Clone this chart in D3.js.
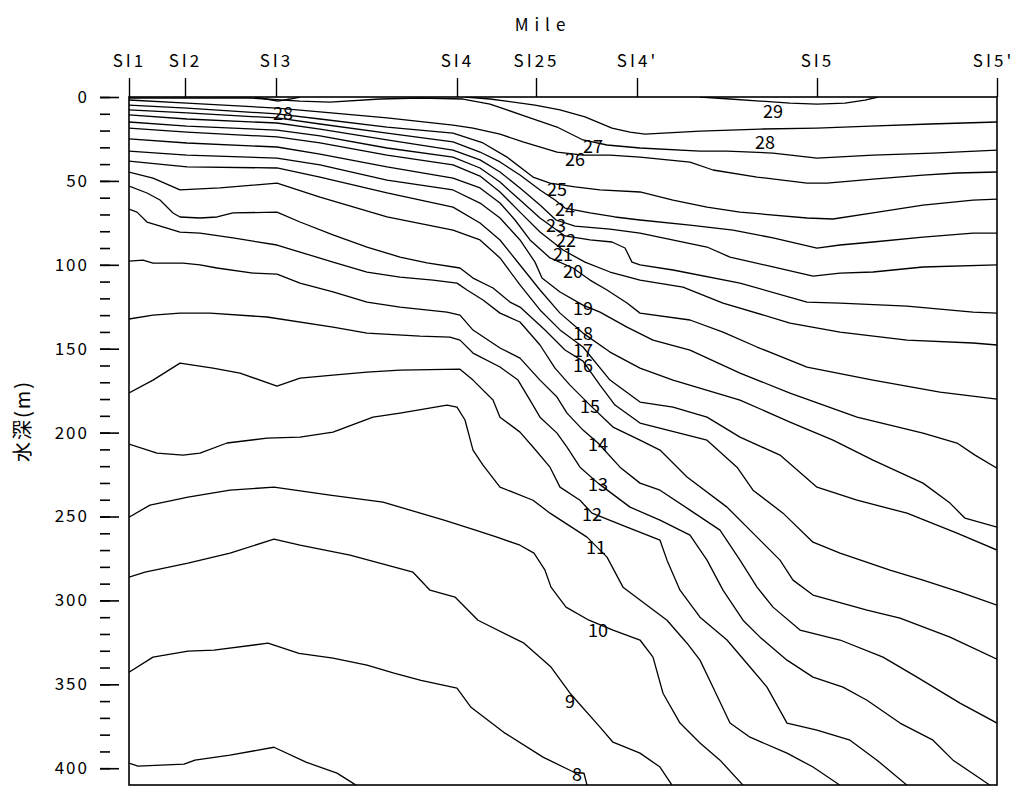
<!DOCTYPE html>
<html>
<head>
<meta charset="utf-8">
<script src="https://cdn.jsdelivr.net/npm/d3@7"></script>
<style>
body { margin: 0; background: #fff; }
text { font-family: "Noto Sans CJK JP", "Noto Sans", sans-serif; fill: #000; }
</style>
</head>
<body>
<script>
// stations along the section (miles from SI1)
const stationNames = ["SI1", "SI2", "SI3", "SI4", "SI25", "SI4'", "SI5", "SI5'"]
const stationMiles = [0, 5.6, 14.7, 32.8, 40.7, 50.8, 68.8, 86.8]

const depthMajor = [0, 50, 100, 150, 200, 250, 300, 350, 400]
const depthMinor = d3.range(0, 410, 10)

// isotherms, [mile, depth m]
const t29 = [[57.1,0],[60.1,1.2],[63.1,2.4],[66.1,3.6],[68.8,4.2],[71.6,3.6],[73.6,1.8],[74.9,0]]
const t28a = [[12.6,0],[13.7,1.2],[14.9,2.4],[16.1,1.2],[17.1,0]]
const t28b = [[33.6,0],[36.1,1.2],[40.6,4.8],[43.1,7.7],[45.6,11.9],[48.3,18.5],[50.1,20.9],[51.6,22.1],[57.1,20.3],[63.1,19.1],[68.8,18.5],[74.1,17.3],[80.1,16.1],[86.8,14.9]]
const t27 = [[0,0.6],[7.1,0.6],[12.1,0.6],[17.1,2.4],[20.1,3.0],[25.1,1.2],[29.1,0.6],[33.4,1.2],[36.1,4.2],[37.8,7.7],[40.1,12.5],[42.8,17.9],[45.4,25.6],[47.8,28.6],[51.1,30.4],[57.1,32.2],[59.8,32.2],[64.4,33.4],[68.8,36.4],[74.4,34.6],[80.4,33.4],[86.8,31.6]]
const t26 = [[0,1.8],[5.8,3.6],[14.8,6.6],[19.1,8.9],[25.8,12.5],[32.4,16.7],[34.4,18.5],[37.1,22.1],[39.4,26.8],[42.8,32.8],[45.4,34.6],[48.1,34.6],[51.1,35.8],[56.1,38.8],[58.4,43.5],[62.8,47.7],[67.8,51.3],[69.8,51.3],[74.4,48.9],[79.4,46.5],[82.8,45.3],[86.8,44.7]]
const t25 = [[0,4.8],[5.8,6.6],[14.8,10.1],[19.1,13.1],[25.8,17.9],[32.4,21.5],[35.4,27.4],[37.8,35.8],[40.4,47.7],[42.1,51.3],[44.6,53.6],[47.1,55.4],[51.1,56.6],[54.4,61.4],[57.8,65.6],[61.1,68.6],[67.8,72.1],[70.4,72.7],[74.4,69.1],[79.4,64.4],[84.4,61.4],[86.8,60.8]]
const t24 = [[0,7.7],[5.8,9.5],[14.8,12.5],[19.1,16.1],[25.8,21.5],[32.4,26.8],[35.1,32.8],[37.1,38.7],[39.1,46.5],[41.1,55.4],[42.6,61.4],[43.6,66.2],[46.1,69.1],[48.6,71.5],[51.1,73.3],[56.1,76.3],[60.4,79.3],[64.4,84.0],[68.8,90.0],[71.1,88.2],[74.4,86.4],[79.4,83.5],[84.4,81.1],[86.8,81.1]]
const t23 = [[0,10.7],[5.8,13.1],[14.8,15.5],[19.1,19.1],[25.8,25.6],[32.4,31.6],[35.1,37.5],[37.1,44.7],[39.1,54.2],[41.1,64.4],[42.7,73.3],[44.6,76.9],[48.1,78.7],[51.1,81.1],[57.8,89.4],[60.1,95.4],[64.4,101.3],[68.4,106.7],[71.1,104.9],[74.4,104.3],[79.4,101.3],[86.8,100.1]]
const t22 = [[0,14.9],[5.8,17.3],[14.8,19.7],[19.1,23.2],[25.8,30.4],[32.4,35.8],[35.1,42.3],[37.1,50.7],[39.1,61.4],[41.1,72.1],[43.6,82.8],[46.1,85.2],[48.3,86.4],[49.6,90.0],[50.3,98.4],[51.1,100.1],[54.4,103.1],[61.1,110.9],[67.8,122.2],[71.1,122.8],[77.8,124.6],[84.4,128.2],[86.8,128.8]]
const t21 = [[0,18.5],[5.8,20.9],[14.8,23.8],[19.1,27.4],[25.8,34.6],[32.4,40.5],[35.1,47.1],[37.1,56.6],[39.1,68.6],[41.1,80.5],[43.4,91.2],[45.6,98.4],[48.1,104.3],[51.1,109.1],[55.4,113.3],[59.4,122.8],[66.1,134.7],[71.1,140.1],[77.8,144.9],[84.4,146.6],[86.8,147.8]]
const t20 = [[0,25.0],[5.8,27.4],[14.8,29.8],[19.1,34.0],[25.8,41.7],[32.4,48.3],[35.1,54.2],[37.1,63.2],[38.6,73.3],[40.1,85.2],[42.1,95.9],[44.4,101.9],[46.1,109.1],[47.8,115.0],[49.8,122.8],[51.1,128.8],[56.1,132.9],[59.4,140.1],[62.8,149.0],[67.8,161.0],[74.4,168.7],[81.1,175.9],[86.8,180.0]]
const t19 = [[0,32.2],[5.8,34.6],[14.8,36.4],[19.1,40.5],[25.8,49.5],[32.4,55.4],[35.1,63.2],[37.1,72.1],[39.1,85.2],[40.6,98.4],[41.3,107.9],[43.1,116.2],[45.4,124.0],[47.1,128.2],[49.8,137.1],[52.4,144.9],[56.1,150.8],[61.1,164.5],[66.1,176.5],[72.8,190.8],[79.4,200.3],[82.8,206.2],[84.6,213.4],[86.8,221.2]]
const t18 = [[0,38.2],[5.8,41.7],[14.8,42.3],[19.1,47.7],[25.8,57.2],[32.4,65.6],[35.1,75.1],[37.1,85.2],[39.1,100.1],[41.1,115.0],[43.1,128.8],[45.4,140.7],[48.1,152.0],[51.1,161.6],[54.4,168.7],[61.1,180.6],[66.1,193.7],[70.4,204.5],[74.4,216.4],[79.4,230.1],[82.1,242.0],[83.6,251.0],[86.8,256.3]]
const t17 = [[0,44.7],[2.4,48.3],[5.1,55.4],[9.1,54.2],[14.8,51.3],[19.1,59.6],[25.8,71.5],[32.4,79.3],[35.1,85.2],[37.1,95.9],[39.1,112.0],[41.1,126.9],[43.1,138.8],[45.4,149.0],[48.1,168.7],[51.1,181.8],[54.4,184.8],[57.8,190.8],[61.1,202.7],[65.1,213.4],[68.8,232.5],[72.8,240.3],[77.8,248.0],[82.8,259.9],[86.8,270.0]]
const t16 = [[0,53.1],[1.8,57.2],[3.1,61.4],[4.4,69.1],[5.1,71.5],[7.1,72.1],[8.8,71.5],[10.4,69.1],[14.8,68.6],[17.1,74.5],[20.4,82.2],[23.8,89.4],[27.1,95.4],[29.8,98.9],[33.1,101.9],[34.4,107.9],[36.4,113.8],[38.1,122.2],[39.1,125.2],[41.6,138.9],[43.6,150.8],[45.4,157.4],[47.1,171.7],[48.6,183.6],[51.1,194.3],[57.8,204.5],[60.8,220.6],[62.4,234.3],[65.4,248.0],[68.4,265.3],[71.1,271.8],[76.1,282.0],[79.4,287.9],[83.1,295.0],[86.8,302.8]]
const t15 = [[0,66.8],[0.8,68.6],[1.8,74.5],[3.8,78.1],[5.1,80.5],[7.1,81.1],[10.4,84.0],[14.8,88.2],[17.1,92.4],[20.4,98.4],[23.8,104.3],[27.1,107.3],[30.4,109.1],[32.8,110.9],[33.8,115.0],[35.4,121.0],[37.1,128.8],[39.1,134.1],[41.1,147.8],[42.6,161.6],[44.1,171.7],[46.1,183.6],[48.4,196.7],[51.1,204.5],[53.1,210.4],[55.8,226.5],[59.8,244.4],[62.8,262.3],[65.1,276.0],[66.4,287.9],[68.4,296.8],[73.8,305.8],[77.1,310.6],[82.1,321.9],[86.8,335.0]]
const t14 = [[0,97.8],[1.4,97.2],[2.4,99.0],[5.4,99.0],[7.1,100.1],[8.8,101.9],[12.4,104.9],[14.8,105.5],[17.1,110.9],[20.4,116.2],[23.8,122.2],[27.1,125.2],[31.8,128.2],[33.1,130.0],[34.4,138.9],[37.1,149.6],[39.1,155.6],[41.1,168.7],[42.8,178.8],[43.8,188.4],[45.4,198.5],[46.9,206.2],[49.1,220.6],[51.1,230.1],[53.1,234.3],[56.1,246.2],[59.1,258.1],[61.1,276.0],[62.8,292.1],[64.4,304.0],[67.1,317.7],[71.1,323.6],[75.4,333.8],[78.8,345.7],[83.1,361.2],[86.8,373.1]]
const t13 = [[0,132.3],[2.4,130.0],[5.1,128.8],[8.1,128.8],[13.8,131.1],[20.4,137.1],[23.8,140.7],[29.1,142.5],[32.1,143.1],[33.1,144.9],[34.4,152.6],[37.1,160.9],[38.9,168.7],[40.1,180.6],[41.1,190.8],[42.8,200.3],[43.8,208.6],[45.1,220.6],[46.9,230.1],[50.1,244.4],[53.1,252.2],[56.1,261.1],[57.8,276.0],[59.4,293.9],[61.4,311.8],[63.1,321.9],[65.8,335.6],[68.4,345.7],[71.4,351.7],[73.8,359.5],[77.1,373.1],[80.4,383.3],[82.4,395.2],[86.1,410.1]]
const t12 = [[0,176.4],[2.4,168.7],[5.1,158.6],[8.4,161.6],[11.1,164.5],[14.8,172.3],[17.1,167.5],[20.4,165.7],[23.8,163.9],[27.1,162.8],[33.1,162.2],[34.4,168.7],[36.4,180.6],[37.1,190.8],[39.1,199.7],[40.4,208.6],[42.1,220.6],[43.1,232.5],[45.1,240.3],[46.3,248.0],[49.8,256.3],[53.1,264.1],[53.8,276.0],[55.1,293.9],[57.1,310.0],[59.8,323.6],[62.1,339.7],[63.8,351.7],[65.8,373.1],[68.8,377.3],[72.1,383.3],[74.8,395.2],[77.8,410.1]]
const t11 = [[0,206.8],[2.8,212.2],[5.4,213.4],[7.1,212.2],[9.8,206.2],[13.8,203.3],[17.1,202.7],[20.4,199.7],[24.4,190.8],[27.1,188.4],[31.8,183.6],[32.8,184.8],[33.6,192.5],[34.4,210.4],[35.4,219.4],[37.1,232.5],[40.4,240.3],[42.1,248.0],[45.8,262.3],[47.8,274.2],[49.4,292.1],[53.8,311.8],[55.8,325.5],[57.1,335.6],[58.4,351.7],[60.1,373.1],[62.1,381.5],[65.8,391.0],[68.4,399.3],[71.1,410.1]]
const t10 = [[0,250.4],[2.1,243.2],[5.9,238.4],[10.1,234.3],[14.5,232.5],[20.1,237.3],[25.4,241.4],[31.5,252.2],[34.1,257.0],[36.8,262.3],[39.1,267.1],[40.5,271.8],[41.6,282.0],[42.2,292.1],[43.7,304.0],[46.0,311.8],[48.4,317.7],[51.1,323.6],[52.4,333.8],[53.4,355.3],[55.1,373.1],[57.1,385.0],[59.1,395.2],[61.4,410.1]]
const t9 = [[0,286.1],[1.6,283.2],[5.9,277.8],[10.1,271.8],[14.5,263.5],[17.1,267.1],[22.1,273.0],[28.4,283.2],[30.1,293.9],[32.6,298.0],[34.9,311.8],[39.5,325.5],[42.2,339.7],[44.1,355.3],[47.1,375.5],[48.4,384.5],[51.1,391.0],[53.1,399.3],[54.3,410.1]]
const t8 = [[0,342.8],[2.4,333.8],[5.9,330.2],[8.5,329.6],[13.9,325.5],[17.0,331.5],[20.4,334.4],[23.8,338.6],[26.5,343.4],[29.2,347.6],[32.8,352.3],[34.2,363.7],[37.6,379.1],[41.4,393.4],[44.5,402.4],[45.5,403.0],[45.8,410.1]]
const t7 = [[0,397.0],[0.9,398.8],[5.5,397.6],[6.6,395.2],[10.1,392.2],[14.5,387.5],[17.7,396.4],[20.8,402.9],[22.7,410.1]]

const isolines = [t29, t28a, t28b, t27, t26, t25, t24, t23, t22, t21, t20, t19, t18, t17, t16, t15, t14, t13, t12, t11, t10, t9, t8, t7]

// contour labels
const labelTemps = [29, 28, 28, 27, 26, 25, 24, 23, 22, 21, 20, 19, 18, 17, 16, 15, 14, 13, 12, 11, 10, 9, 8]
const labelMiles = [64.4, 15.4, 63.6, 46.4, 44.6, 42.8, 43.6, 42.7, 43.7, 43.4, 44.4, 45.4, 45.4, 45.4, 45.4, 46.1, 46.9, 46.9, 46.3, 46.7, 46.9, 44.1, 44.8]
const labelDepths = [7.7, 8.9, 26.2, 28.6, 36.4, 54.2, 66.2, 75.8, 84.4, 92.8, 103.1, 125.2, 140.3, 150.2, 159.2, 183.6, 206.2, 230.1, 248.0, 267.7, 317.1, 359.5, 402.6]

const WIDTH = 1015
const HEIGHT = 787

const PADDING = {
    left: 129,
    right: 18,
    top: 97,
    bottom: 2
}

const svg = d3.select("body")
    .append("svg")
    .attr("width", WIDTH)
    .attr("height", HEIGHT)

const xScale = d3.scaleLinear()
    .domain([0, 86.8])
    .range([PADDING.left, WIDTH - PADDING.right])

const yScale = d3.scaleLinear()
    .domain([0, 410])
    .range([PADDING.top, HEIGHT - PADDING.bottom])

svg.append("clipPath")
    .attr("id", "plot-clip")
    .append("rect")
    .attr("x", xScale(0))
    .attr("y", yScale(0))
    .attr("width", xScale(86.8) - xScale(0))
    .attr("height", yScale(410) - yScale(0))

const line = d3.line()
    .x(d => xScale(d[0]))
    .y(d => yScale(d[1]))

svg.append("g")
    .attr("clip-path", "url(#plot-clip)")
    .selectAll("path")
    .data(isolines)
    .enter()
    .append("path")
    .attr("d", line)
    .attr("fill", "none")
    .attr("stroke", "#000")
    .attr("stroke-width", 1.3)
    .attr("stroke-linejoin", "round")

// frame
svg.append("rect")
    .attr("x", xScale(0))
    .attr("y", yScale(0))
    .attr("width", xScale(86.8) - xScale(0))
    .attr("height", yScale(410) - yScale(0))
    .attr("fill", "none")
    .attr("stroke", "#000")
    .attr("stroke-width", 1.6)

svg.selectAll(".iso-label")
    .data(labelTemps)
    .enter()
    .append("text")
    .attr("class", "iso-label")
    .attr("x", (d, i) => xScale(labelMiles[i]))
    .attr("y", (d, i) => yScale(labelDepths[i]))
    .attr("text-anchor", "middle")
    .attr("dominant-baseline", "central")
    .style("font-size", "18px")
    .text(d => d)

// station axis on top
const xAxis = d3.axisTop(xScale)
    .tickValues(stationMiles)
    .tickFormat((d, i) => stationNames[i])
    .tickSizeInner(19)
    .tickSizeOuter(0)
    .tickPadding(11)

const gx = svg.append("g")
    .attr("transform", "translate(0, " + PADDING.top + ")")
    .call(xAxis)
gx.select(".domain").remove()
gx.selectAll("line").attr("stroke", "#000").attr("stroke-width", 1.4)
gx.selectAll("text")
    .style("font-size", "17px")
    .style("letter-spacing", "3px")
    .attr("fill", "#000")
    .attr("dx", (d, i) => i === stationNames.length - 1 ? -4 : 0)

svg.append("text")
    .attr("x", 543)
    .attr("y", 31)
    .attr("text-anchor", "middle")
    .style("font-size", "17px")
    .style("letter-spacing", "6px")
    .text("Mile")

// depth axis, ticks stand off the frame
const yMinor = d3.axisLeft(yScale)
    .tickValues(depthMinor)
    .tickFormat("")
    .tickSizeInner(10)
    .tickSizeOuter(0)

const gyMinor = svg.append("g")
    .attr("transform", "translate(110, 0)")
    .call(yMinor)
gyMinor.select(".domain").remove()
gyMinor.selectAll("line").attr("stroke", "#000").attr("stroke-width", 1.6)

const yAxis = d3.axisLeft(yScale)
    .tickValues(depthMajor)
    .tickSizeInner(19)
    .tickSizeOuter(0)
    .tickPadding(11)

const gy = svg.append("g")
    .attr("transform", "translate(119, 0)")
    .call(yAxis)
gy.select(".domain").remove()
gy.selectAll("line").attr("stroke", "#000").attr("stroke-width", 1.6)
gy.selectAll("text")
    .style("font-size", "17px")
    .style("letter-spacing", "2px")
    .attr("fill", "#000")

svg.append("text")
    .attr("transform", "translate(30, 421) rotate(-90)")
    .attr("text-anchor", "middle")
    .style("font-size", "20px")
    .style("letter-spacing", "2px")
    .text("水深(m)")
</script>
</body>
</html>
